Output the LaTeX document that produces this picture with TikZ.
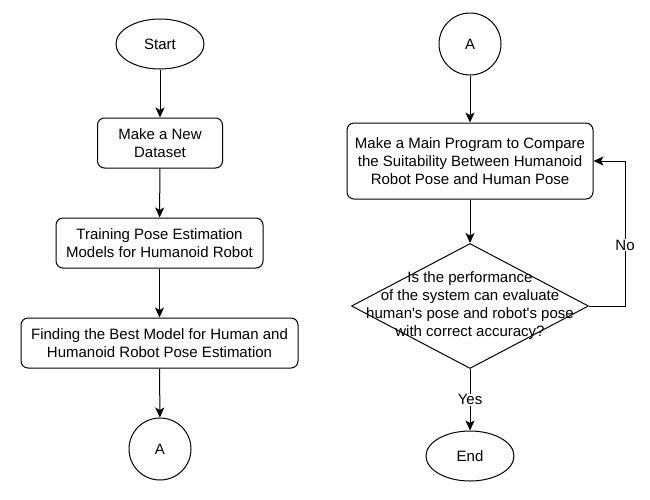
\documentclass[tikz,border=0pt]{standalone}
\usepackage{fontspec}
\setmainfont{Liberation Sans}
\usepackage{textcomp}
\usetikzlibrary{shapes.geometric,arrows.meta}
\begin{document}
\begin{tikzpicture}[x=1pt,y=-1pt,
  every node/.style={font=\fontsize{15}{18}\selectfont, align=center, inner sep=0pt},
  term/.style={draw, ellipse, line width=1pt, minimum width=88pt, minimum height=50pt},
  conn/.style={draw, circle, line width=1pt, minimum size=62pt},
  proc/.style={draw, rounded corners=7pt, line width=1pt, minimum height=50pt},
  dec/.style={draw, diamond, line width=1pt, minimum width=237pt, minimum height=125pt},
  lbl/.style={fill=white, inner sep=1pt},
  arr/.style={draw, line width=1pt, -{Stealth[length=10pt,width=9pt,inset=2.5pt]}}
]
\useasboundingbox (0,0) rectangle (650,499);
% left column
\node[term] (start) at (160,44) {Start};
\node[proc, minimum width=125pt] (b1) at (160,143) {Make a New\\Dataset};
\node[proc, minimum width=207pt] (b2) at (159.5,243) {Training Pose Estimation\\Models for Humanoid Robot};
\node[proc, minimum width=277pt] (b3) at (159.5,343) {Finding the Best Model for Human and\\Humanoid Robot Pose Estimation};
\node[conn] (a1) at (160,449) {A};
% right column
\node[conn] (a2) at (470,44) {A};
\node[proc, minimum width=246pt, minimum height=76pt] (b4) at (470,161) {Make a Main Program to Compare\\the Suitability Between Humanoid\\Robot Pose and Human Pose};
\node[dec] (dia) at (470,306) {};
\node (diatext) at (470,306) {Is the performance\\of the system can evaluate\\human\textquotesingle s pose and robot\textquotesingle s pose\\with correct accuracy?};
\node[term] (end) at (470,456) {End};
\coordinate (nc) at (625,306);
% connectors
\draw[arr] (start) -- (b1);
\draw[arr] (b1) -- (b2);
\draw[arr] (b2) -- (b3);
\draw[arr] (b3) -- (a1);
\draw[arr] (a2) -- (b4);
\draw[arr] (b4) -- (dia);
\draw[arr] (dia) -- node[lbl]{Yes} (end);
\draw[arr] (dia.east) -- (nc) -- node[lbl, pos=0.42]{No} (nc |- b4.east) -- (b4.east);
\end{tikzpicture}
\end{document}
